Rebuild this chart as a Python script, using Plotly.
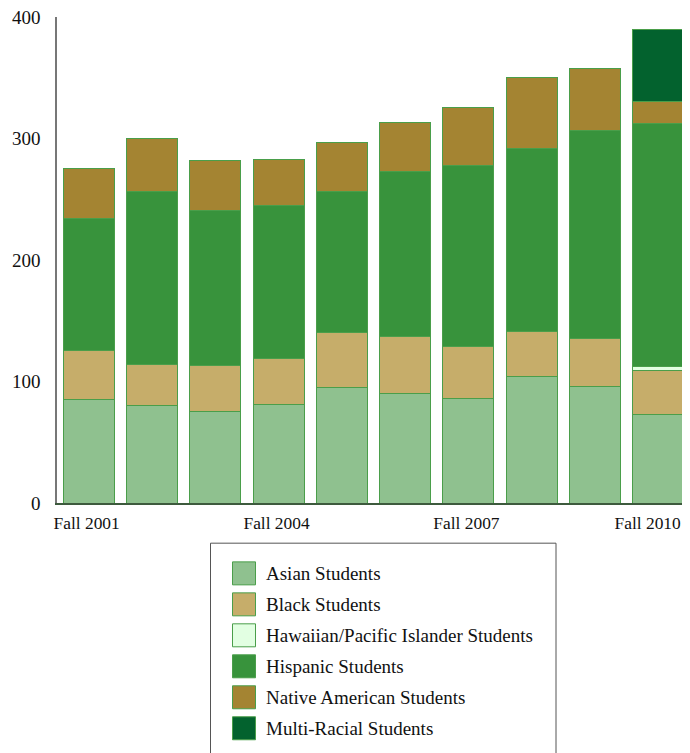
import plotly.graph_objects as go

categories = ["Fall 2001", "Fall 2002", "Fall 2003", "Fall 2004", "Fall 2005",
              "Fall 2006", "Fall 2007", "Fall 2008", "Fall 2009", "Fall 2010"]
tick_values = ["Fall 2001", "Fall 2004", "Fall 2007", "Fall 2010"]
# the last label gets trailing no-break spaces so that it stays inside the page edge
tick_labels = ["Fall 2001", "Fall 2004", "Fall 2007", "Fall 2010\u00a0\u00a0\u00a0\u00a0"]
y_ticks = [0, 100, 200, 300, 400]

series_names = ["Asian Students", "Black Students", "Hawaiian/Pacific Islander Students",
                "Hispanic Students", "Native American Students", "Multi-Racial Students"]
asian = [85, 80, 75, 81, 95, 90.5, 86, 104, 96, 73]
black = [40.5, 34, 38, 38, 45, 46.5, 42.5, 37.5, 39, 36]
hawaiian = [None, None, None, None, None, None, None, None, None, 3.5]
hispanic = [109, 142, 128, 126, 116, 136, 149, 150, 172, 199.5]
native = [41, 44, 41, 38, 41, 40, 48, 59, 51, 18.5]
multi = [None, None, None, None, None, None, None, None, None, 59]
series_values = [asian, black, hawaiian, hispanic, native, multi]
series_colors = ["#8fc18f", "#c6ad6a", "#e2ffe2", "#38933c", "#a48432", "#03622e"]

OFF = 8  # page body margin
W, H = 690 - OFF, 753 - OFF
ML, MR, MT = 57 - OFF, 0, 17 - OFF
PH = 503.3 - 17
MB = H - MT - PH
PW = W - ML - MR
FONT = "Liberation Serif"

fig = go.Figure()
for name, vals, col in zip(series_names, series_values, series_colors):
    fig.add_trace(go.Bar(
        x=categories, y=vals, name=name, showlegend=False,
        marker=dict(color=col, line=dict(color="#4a9e4a", width=1)),
    ))


def px_x(p):
    return (p - OFF - ML) / PW


def px_y(p):
    return (MT + PH - (p - OFF)) / PH


shapes = [dict(type="rect", xref="paper", yref="paper",
               x0=px_x(210.5), x1=px_x(556), y0=px_y(770), y1=px_y(543.5),
               line=dict(color="#555555", width=1), fillcolor="rgba(0,0,0,0)", layer="below")]
annotations = []
row0, step = 573.7, 31
for i, (name, col) in enumerate(zip(series_names, series_colors)):
    cy = row0 + i * step
    shapes.append(dict(type="rect", xref="paper", yref="paper",
                       x0=px_x(232.5), x1=px_x(255.5), y0=px_y(cy + 11.5), y1=px_y(cy - 11.5),
                       line=dict(color="#4a9e4a", width=1), fillcolor=col))
    annotations.append(dict(xref="paper", yref="paper", x=px_x(264), y=px_y(cy),
                            xanchor="left", yanchor="middle", showarrow=False,
                            text=name, font=dict(family=FONT, size=19, color="#111111")))

fig.update_layout(
    width=W, height=H, barmode="stack", bargap=0.195,
    margin=dict(l=ML, r=MR, t=MT, b=MB, autoexpand=False),
    paper_bgcolor="white", plot_bgcolor="white",
    font=dict(family=FONT, size=18, color="#111111"),
    shapes=shapes, annotations=annotations,
    xaxis=dict(type="category", categoryorder="array", categoryarray=categories,
               range=[-0.5, 9.5], tickmode="array", tickvals=tick_values, ticktext=tick_labels,
               showline=True, linecolor="#3d5a3d", linewidth=2, ticks="", showgrid=False,
               zeroline=False, tickfont=dict(family=FONT, size=17.4), ticklabelstandoff=3,
               ticklabelshift=-2, ticklabeloverflow="allow"),
    yaxis=dict(range=[0, 400], tickmode="array", tickvals=y_ticks,
               showline=True, linecolor="#777777", linewidth=1.5, ticks="", showgrid=False,
               zeroline=False, tickfont=dict(family=FONT, size=19), ticklabelstandoff=11,
               ticklabeloverflow="allow"),
)

fig.write_html("out.html")
